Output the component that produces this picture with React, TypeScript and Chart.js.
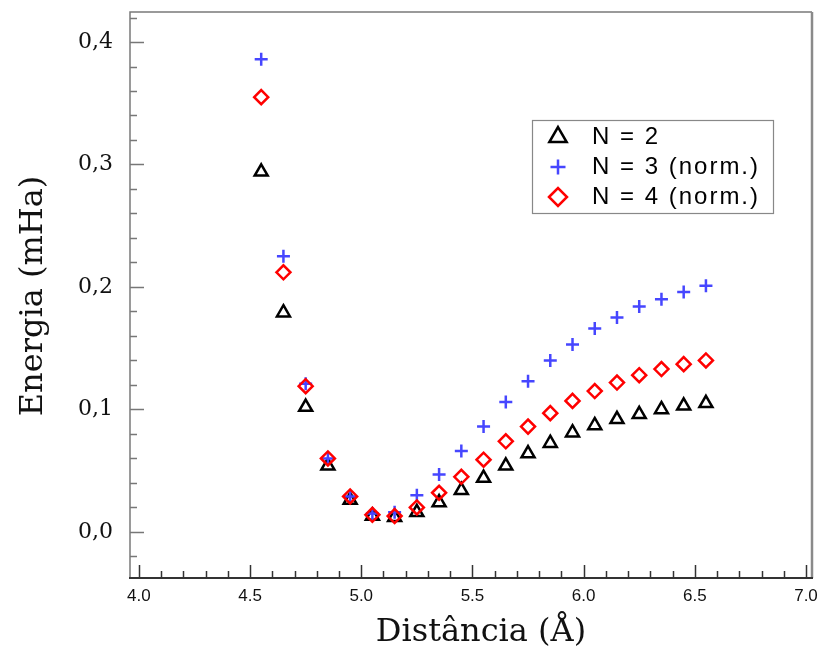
import React, { useEffect, useRef } from 'react';
import { Chart, registerables } from 'chart.js';
import { drawPoint } from 'chart.js/helpers';

Chart.register(...registerables);

const distances = [4.55, 4.65, 4.75, 4.85, 4.95, 5.05, 5.15, 5.25, 5.35, 5.45, 5.55, 5.65, 5.75, 5.85, 5.95, 6.05, 6.15, 6.25, 6.35, 6.45, 6.55];
const energyN2 = [0.294, 0.179, 0.102, 0.054, 0.026, 0.013, 0.012, 0.016, 0.024, 0.034, 0.044, 0.054, 0.064, 0.0725, 0.081, 0.087, 0.092, 0.096, 0.100, 0.103, 0.105];
const energyN3 = [0.386, 0.225, 0.121, 0.060, 0.029, 0.015, 0.016, 0.030, 0.047, 0.066, 0.086, 0.106, 0.123, 0.140, 0.153, 0.166, 0.175, 0.184, 0.190, 0.196, 0.201];
const energyN4 = [0.355, 0.212, 0.119, 0.060, 0.029, 0.014, 0.013, 0.020, 0.032, 0.045, 0.059, 0.074, 0.086, 0.097, 0.107, 0.115, 0.122, 0.128, 0.133, 0.137, 0.140];
const seriesLabels = ['N = 2', 'N = 3 (norm.)', 'N = 4 (norm.)'];
const xTickValues = [4.0, 4.5, 5.0, 5.5, 6.0, 6.5, 7.0];
const yTickValues = [0.0, 0.1, 0.2, 0.3, 0.4];
const xTitle = 'Distância (Å)';
const yTitle = 'Energia (mHa)';

const SERIF = '"DejaVu Serif", serif';
const SANS = '"Liberation Sans", Arial, sans-serif';

const legendMarkerRadius = [10, 7.5, 9];

const framePlugin = {
  id: 'frameTicks',
  afterDraw(chart: any) {
    const { ctx, chartArea: a, scales } = chart;
    const xs = scales.x;
    const ys = scales.y;
    ctx.save();
    ctx.strokeStyle = '#777';
    ctx.lineWidth = 1.5;
    for (let k = -1; k <= 21; k++) {
      const v = k * 0.02;
      const p = Math.round(ys.getPixelForValue(v)) + 0.5;
      if (p < a.top + 1 || p > a.bottom - 1) continue;
      const major = k % 5 === 0;
      ctx.beginPath();
      ctx.moveTo(a.left, p);
      ctx.lineTo(a.left + (major ? 14 : 7), p);
      ctx.stroke();
    }
    ctx.strokeStyle = '#333';
    for (let k = 0; k <= 30; k++) {
      const v = 4 + k * 0.1;
      const p = Math.round(xs.getPixelForValue(v)) + 0.5;
      const major = k % 5 === 0;
      ctx.beginPath();
      ctx.moveTo(p, a.bottom);
      ctx.lineTo(p, a.bottom - (major ? 13 : 7));
      ctx.stroke();
    }
    ctx.lineWidth = 1.5;
    ctx.strokeStyle = '#7a7a7a';
    ctx.beginPath();
    ctx.moveTo(a.left, a.bottom);
    ctx.lineTo(a.left, a.top);
    ctx.lineTo(a.right, a.top);
    ctx.stroke();
    ctx.lineWidth = 2.5;
    ctx.strokeStyle = '#8a8a8a';
    ctx.beginPath();
    ctx.moveTo(a.right, a.top);
    ctx.lineTo(a.right, a.bottom);
    ctx.stroke();
    ctx.lineWidth = 2;
    ctx.strokeStyle = '#333';
    ctx.beginPath();
    ctx.moveTo(a.left - 1, a.bottom);
    ctx.lineTo(a.right + 1, a.bottom);
    ctx.stroke();

    ctx.fillStyle = '#111';
    ctx.font = `32px ${SERIF}`;
    ctx.textAlign = 'center';
    ctx.textBaseline = 'alphabetic';
    ctx.fillText(xTitle, 481, 641);
    ctx.save();
    ctx.translate(42, 296);
    ctx.rotate(-Math.PI / 2);
    ctx.fillText(yTitle, 0, 0);
    ctx.restore();

    ctx.lineWidth = 1.2;
    ctx.strokeStyle = '#888';
    ctx.strokeRect(532.5, 120.5, 241, 93);
    ctx.font = `24px ${SANS}`;
    ctx.textAlign = 'left';
    try { (ctx as any).letterSpacing = '2px'; } catch (e) {}
    chart.data.datasets.forEach((ds: any, i: number) => {
      const base = 144 + i * 30;
      ctx.save();
      ctx.strokeStyle = ds.borderColor;
      ctx.fillStyle = 'rgba(0,0,0,0)';
      ctx.lineWidth = ds.pointBorderWidth;
      drawPoint(ctx, { pointStyle: ds.pointStyle, radius: legendMarkerRadius[i], borderWidth: ds.pointBorderWidth, rotation: 0 }, 558, base - 7);
      ctx.restore();
      ctx.fillStyle = '#000';
      ctx.fillText(ds.label, 592, base);
    });
    ctx.restore();
  },
};

export default function App() {
  const ref = useRef<HTMLCanvasElement>(null);
  useEffect(() => {
    document.body.style.margin = '0';
    const canvas = ref.current!;
    const mk = (arr: number[]) => distances.map((x, i) => ({ x, y: arr[i] }));
    const chart = new Chart(canvas, {
      type: 'scatter',
      data: {
        datasets: [
          {
            label: seriesLabels[0],
            data: mk(energyN2),
            pointStyle: 'triangle',
            pointRadius: 7.5,
            pointBorderWidth: 2.5,
            borderColor: '#000000',
            backgroundColor: 'rgba(0,0,0,0)',
            order: 2,
          },
          {
            label: seriesLabels[1],
            data: mk(energyN3),
            pointStyle: 'cross',
            pointRadius: 6.5,
            pointBorderWidth: 2.5,
            borderColor: '#4646ff',
            backgroundColor: 'rgba(0,0,0,0)',
            order: 1,
          },
          {
            label: seriesLabels[2],
            data: mk(energyN4),
            pointStyle: 'rectRot',
            pointRadius: 7,
            pointBorderWidth: 2.5,
            borderColor: '#ff0000',
            backgroundColor: 'rgba(0,0,0,0)',
            order: 0,
          },
        ] as any,
      },
      options: {
        responsive: false,
        animation: false,
        layout: { padding: { top: 12, right: 9, left: 0, bottom: 0 } },
        plugins: { legend: { display: false }, tooltip: { enabled: false }, title: { display: false } },
        scales: {
          x: {
            type: 'linear',
            min: 3.96,
            max: 7.027,
            grid: { display: false, drawTicks: false },
            border: { display: false },
            afterBuildTicks: (s: any) => { s.ticks = xTickValues.map((v) => ({ value: v })); },
            afterFit: (s: any) => { s.height = 70; s.paddingLeft = 0; s.paddingRight = 0; },
            ticks: {
              padding: 8,
              autoSkip: false,
              maxRotation: 0,
              color: '#111',
              font: { family: SANS, size: 17 },
              callback: (v: any) => Number(v).toFixed(1),
            },
          },
          y: {
            type: 'linear',
            min: -0.0376,
            max: 0.4245,
            grid: { display: false, drawTicks: false },
            border: { display: false },
            afterBuildTicks: (s: any) => { s.ticks = yTickValues.map((v) => ({ value: v })); },
            afterFit: (s: any) => { s.width = 130; s.paddingTop = 0; s.paddingBottom = 0; },
            ticks: {
              padding: 17,
              autoSkip: false,
              color: '#111',
              font: { family: SERIF, size: 22 },
              callback: (v: any) => Number(v).toFixed(1).replace('.', ','),
            },
          },
        },
      } as any,
      plugins: [framePlugin],
    });
    return () => chart.destroy();
  }, []);
  return <canvas ref={ref} width={822} height={648} style={{ display: 'block', width: 822, height: 648 }} />;
}
